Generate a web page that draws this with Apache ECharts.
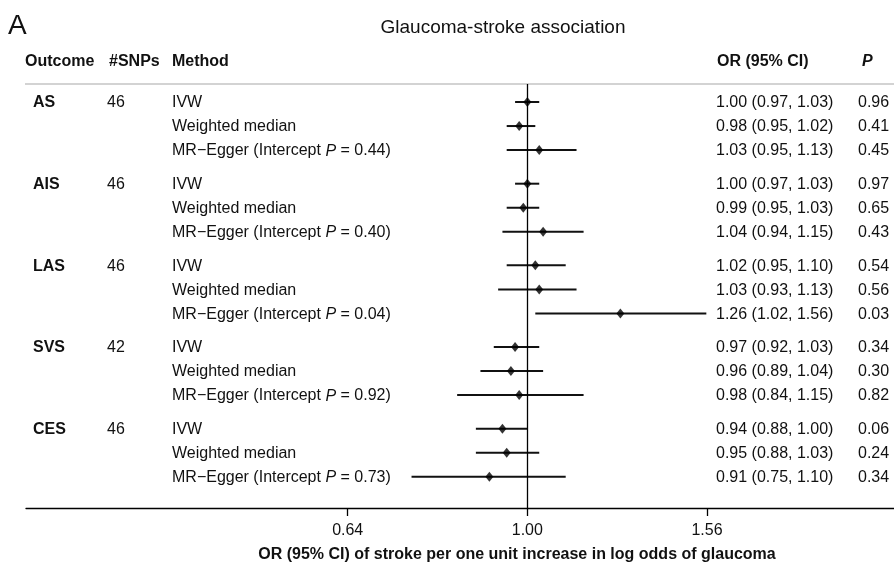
<!DOCTYPE html>
<html>
<head>
<meta charset="utf-8">
<script src="https://cdn.jsdelivr.net/npm/echarts@6/dist/echarts.min.js"></script>
<style>
  html, body { margin: 0; padding: 0; background: #fff; }
  #chart { width: 894px; height: 564px; }
</style>
</head>
<body>
<div id="chart"></div>
<script>
// ---------- data ----------
const outcomes = ['AS', 'AIS', 'LAS', 'SVS', 'CES'];
const snps = ['46', '46', '46', '42', '46'];
const methods = ['IVW', 'Weighted median', 'MR\u2212Egger'];
const interceptP = ['0.44', '0.40', '0.04', '0.92', '0.73'];
const orValues = [
  [1.00, 0.98, 1.03],
  [1.00, 0.99, 1.04],
  [1.02, 1.03, 1.26],
  [0.97, 0.96, 0.98],
  [0.94, 0.95, 0.91]
];
const ciLow = [
  [0.97, 0.95, 0.95],
  [0.97, 0.95, 0.94],
  [0.95, 0.93, 1.02],
  [0.92, 0.89, 0.84],
  [0.88, 0.88, 0.75]
];
const ciHigh = [
  [1.03, 1.02, 1.13],
  [1.03, 1.03, 1.15],
  [1.10, 1.13, 1.56],
  [1.03, 1.04, 1.15],
  [1.00, 1.03, 1.10]
];
const pValues = [
  ['0.96', '0.41', '0.45'],
  ['0.97', '0.65', '0.43'],
  ['0.54', '0.56', '0.03'],
  ['0.34', '0.30', '0.82'],
  ['0.06', '0.24', '0.34']
];
const tickValues = [0.64, 1.00, 1.5625];
const tickLabels = ['0.64', '1.00', '1.56'];

// ---------- build ----------
const FONT = '"Liberation Sans", Arial, Helvetica, sans-serif';
const TXT = '#111';
const GROUP_STEP = 3.4;
const ln = Math.log;
const tickLn = tickValues.map(v => ln(v));

const pointData = [], whiskerData = [], textData = [];
outcomes.forEach((o, g) => {
  methods.forEach((m, k) => {
    const y = g * GROUP_STEP + k;
    pointData.push([ln(orValues[g][k]), y]);
    whiskerData.push([ln(ciLow[g][k]), ln(ciHigh[g][k]), y]);
    textData.push([0, y, g, k]);
  });
});
const fmt = v => v.toFixed(2);

const chart = echarts.init(document.getElementById('chart'), null, { renderer: 'canvas' });

function txt(x, y, text, extra) {
  return {
    type: 'text', x: x, y: y,
    style: Object.assign({
      text: text, fill: TXT, fontSize: 16, fontFamily: FONT,
      textAlign: 'left', textVerticalAlign: 'middle'
    }, extra || {})
  };
}

const option = {
  animation: false,
  backgroundColor: '#fff',
  grid: { left: 26, right: 0, top: 84, bottom: 56, containLabel: false, outerBoundsMode: 'none' },
  xAxis: {
    type: 'value',
    min: ln(0.2878),
    max: ln(2.4866),
    splitLine: { show: false },
    axisLine: { show: true, onZero: false, lineStyle: { color: '#000', width: 1.3 } },
    axisTick: { show: true, customValues: tickLn, length: 8, lineStyle: { color: '#000', width: 1.3 } },
    axisLabel: {
      customValues: tickLn,
      margin: 15,
      fontSize: 16,
      fontFamily: FONT,
      color: TXT,
      formatter: function (v) {
        for (let i = 0; i < tickLn.length; i++) {
          if (Math.abs(tickLn[i] - v) < 1e-6) return tickLabels[i];
        }
        return '';
      }
    }
  },
  yAxis: { type: 'value', inverse: true, min: -0.75, max: 16.9, show: false },
  graphic: {
    elements: [
      txt(8, 26, 'A', { fontSize: 28 }),
      txt(503, 28, 'Glaucoma-stroke association', { fontSize: 19, textAlign: 'center' }),
      txt(25, 62, 'Outcome', { fontWeight: 'bold' }),
      txt(109, 62, '#SNPs', { fontWeight: 'bold' }),
      txt(172, 62, 'Method', { fontWeight: 'bold' }),
      txt(717, 62, 'OR (95% CI)', { fontWeight: 'bold' }),
      txt(862, 62, 'P', { fontWeight: 'bold', fontStyle: 'italic' }),
      {
        type: 'line',
        shape: { x1: 25, y1: 84, x2: 894, y2: 84 },
        style: { stroke: '#c4c4c4', lineWidth: 1.5 }
      },
      txt(517, 555, 'OR (95% CI) of stroke per one unit increase in log odds of glaucoma',
        { fontWeight: 'bold', textAlign: 'center' })
    ]
  },
  series: [
    {
      type: 'custom',
      name: 'whiskers',
      data: whiskerData,
      encode: { x: [0, 1], y: 2 },
      z: 3,
      renderItem: function (params, api) {
        const p1 = api.coord([api.value(0), api.value(2)]);
        const p2 = api.coord([api.value(1), api.value(2)]);
        return {
          type: 'line',
          shape: { x1: p1[0], y1: p1[1], x2: p2[0], y2: p2[1] },
          style: { stroke: '#111', lineWidth: 2 }
        };
      }
    },
    {
      type: 'scatter',
      name: 'OR',
      data: pointData,
      symbol: 'diamond',
      symbolSize: [8, 10],
      itemStyle: { color: '#000' },
      z: 4,
      markLine: {
        silent: true,
        symbol: ['none', 'none'],
        label: { show: false },
        lineStyle: { color: '#000', width: 1.3, type: 'solid' },
        data: [{ xAxis: 0 }]
      }
    },
    {
      type: 'custom',
      name: 'table',
      data: textData,
      encode: { x: 0, y: 1 },
      clip: false,
      renderItem: function (params, api) {
        const y = api.coord([0, api.value(1)])[1] + 1;
        const g = api.value(2), k = api.value(3);
        const children = [];
        if (k === 0) {
          children.push(txt(33, y, outcomes[g], { fontWeight: 'bold' }));
          children.push(txt(107, y, snps[g]));
        }
        if (k === 2) {
          children.push({
            type: 'text', x: 172, y: y,
            style: {
              text: methods[k] + ' (Intercept {i|P} = ' + interceptP[g] + ')',
              fill: TXT, fontSize: 16, fontFamily: FONT,
              textAlign: 'left', textVerticalAlign: 'middle',
              rich: { i: { fontStyle: 'italic', fontSize: 16, fontFamily: FONT, fill: TXT } }
            }
          });
        } else {
          children.push(txt(172, y, methods[k]));
        }
        children.push(txt(716, y, fmt(orValues[g][k]) + ' (' + fmt(ciLow[g][k]) + ', ' + fmt(ciHigh[g][k]) + ')'));
        children.push(txt(858, y, pValues[g][k]));
        return { type: 'group', children: children };
      }
    }
  ]
};
chart.setOption(option);
</script>
</body>
</html>
